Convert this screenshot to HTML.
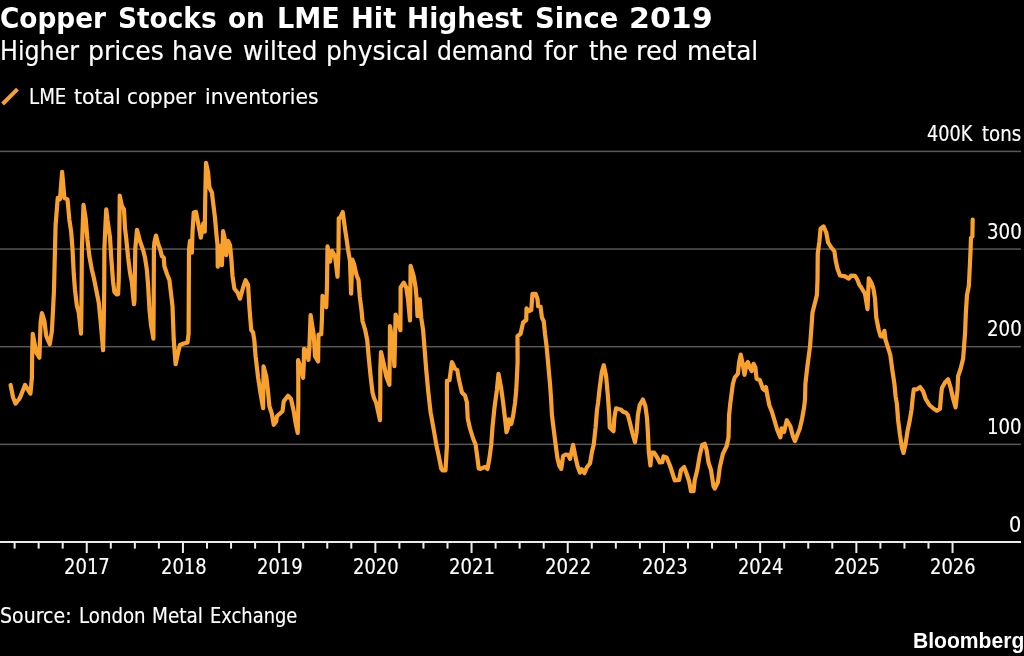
<!DOCTYPE html>
<html lang="en">
<head>
<meta charset="utf-8">
<title>Copper Stocks on LME Hit Highest Since 2019</title>
<style>
html,body{margin:0;padding:0;background:#000;}
body{width:1024px;height:656px;overflow:hidden;position:relative;color:#fff;
  font-family:"DejaVu Sans Condensed","DejaVu Sans","Liberation Sans",sans-serif;font-stretch:condensed;}
#title,#bb{font-stretch:normal;}
#chart{position:absolute;left:0;top:0;width:1024px;height:656px;display:block;}
.t{position:absolute;left:0;width:1024px;height:0;margin:0;padding:0;line-height:1;white-space:pre;}
.t span{position:absolute;top:0;display:block;transform-origin:0 0;white-space:pre;-webkit-text-stroke:0.15px #fff;}
#title span,#bb span{-webkit-text-stroke:0;}
#title{top:5px;font-family:"DejaVu Sans","Liberation Sans",sans-serif;font-weight:bold;font-size:28px;}
#sub{top:37px;font-family:"DejaVu Sans Condensed","DejaVu Sans","Liberation Sans",sans-serif;font-weight:normal;font-size:27px;}
#legend{top:86px;font-family:"DejaVu Sans Condensed","DejaVu Sans","Liberation Sans",sans-serif;font-weight:normal;font-size:22px;}
#y400{top:124px;font-family:"DejaVu Sans Condensed","DejaVu Sans","Liberation Sans",sans-serif;font-weight:normal;font-size:21px;}
#y300{top:222px;font-family:"DejaVu Sans Condensed","DejaVu Sans","Liberation Sans",sans-serif;font-weight:normal;font-size:21px;}
#y200{top:319px;font-family:"DejaVu Sans Condensed","DejaVu Sans","Liberation Sans",sans-serif;font-weight:normal;font-size:21px;}
#y100{top:417px;font-family:"DejaVu Sans Condensed","DejaVu Sans","Liberation Sans",sans-serif;font-weight:normal;font-size:21px;}
#y0{top:515px;font-family:"DejaVu Sans Condensed","DejaVu Sans","Liberation Sans",sans-serif;font-weight:normal;font-size:21px;}
#xl{top:557px;font-family:"DejaVu Sans Condensed","DejaVu Sans","Liberation Sans",sans-serif;font-weight:normal;font-size:21px;}
#src{top:606px;font-family:"DejaVu Sans Condensed","DejaVu Sans","Liberation Sans",sans-serif;font-weight:normal;font-size:21px;}
#bb{top:631px;font-family:"Liberation Sans","DejaVu Sans",sans-serif;font-weight:bold;font-size:21.5px;}
</style>
</head>
<body>
<svg id="chart" width="1024" height="656" viewBox="0 0 1024 656">
  <g id="grid" fill="#585858">
    <rect x="0" y="150.65" width="1021" height="1.5"/>
    <rect x="0" y="248.3" width="1021" height="1.5"/>
    <rect x="0" y="345.95" width="1021" height="1.5"/>
    <rect x="0" y="443.6" width="1021" height="1.5"/>
  </g>
  <path id="series" d="M10.6 385 L13.1 397.5 L15.6 403.6 L17.8 400.5 L19 399.5 L20.5 396.5 L25 384.9 L30.4 393.6 L31.9 378 L32.2 352.5 L32.75 333.8 L36.25 352.5 L39.4 357.7 L40 340 L40.6 322.5 L41.9 313.05 L44.4 321 L46.25 336 L49.75 344.2 L51.9 331 L53.1 308.75 L54 290 L55 249 L55.6 225 L57.75 197.8 L60 199.2 L62.1 171.8 L64.4 198 L67.5 199.4 L69.4 220 L71.2 232 L72.5 249 L73.75 273.75 L75 290 L76.9 306 L78.75 312.5 L81 333.6 L81.5 302 L81.9 249 L82.5 232 L83.5 204.8 L85.6 218 L87.5 240 L89.4 256.25 L91.9 270 L93.75 277.5 L96.25 290 L98.75 302.5 L100.6 321 L103.1 350.2 L103.75 321 L104.2 290 L104.4 249 L105.3 228 L106.25 209.3 L107.5 220 L110 237.5 L111.25 257.5 L113.1 282 L114.4 292 L116.5 294.5 L118.1 294.2 L118.75 280 L119.2 249 L119.4 232 L119.75 195.55 L121.9 206 L124 209.4 L125 228 L126.25 238.75 L128.1 257.5 L130 272.5 L131.9 282.5 L133.5 300 L134 304.2 L134.5 300 L135.25 249 L137 229.8 L140 241.25 L143.1 250 L145 257.5 L146.9 270 L148.1 285 L149.5 310 L151 325 L153.4 338.6 L153.7 302 L153.9 249 L154.4 242.5 L156 235.55 L158.1 243.75 L160 248.75 L161.9 256.25 L163.75 257.5 L164.4 266.25 L166.9 273.75 L169.4 280 L170.6 290 L172.5 306 L173.75 340 L175.6 364.2 L178.1 352.5 L180 345 L183.75 343.5 L187.5 342.5 L188.6 333.75 L188.8 290 L189 250 L190 240.8 L191.9 252.7 L192.5 232 L193.75 212.5 L196 211.8 L198.5 225 L200.8 237.7 L203.25 223.3 L204.8 231.7 L205.2 200 L206 162.8 L208.1 172.5 L209.4 187.5 L211.9 192.5 L213.1 202.5 L215 218 L216.25 232.5 L217.5 245 L217.75 266.7 L220 245.8 L221.9 265.2 L223.1 231.1 L225 240 L226.25 255.2 L228.1 240.8 L230 245 L231.25 257.5 L232.5 276 L234.4 288.75 L237.5 292.5 L240 298.7 L243.1 287.5 L245.6 280.2 L248.1 285 L249.4 307.5 L251.25 330 L253.1 332.5 L254.4 341 L255.6 356.25 L258.1 377.5 L260.6 393.75 L263.1 408.2 L263.4 383.75 L263.5 366.4 L266.25 376.25 L268.1 392.5 L269.4 406.25 L271.9 414 L273.75 424.8 L276.25 421.25 L276.9 416.25 L282.5 411.25 L283.75 401.25 L288 395.8 L291 399 L293.5 410 L295.6 423 L297.75 432.95 L298.3 405 L298.3 380 L298.1 360.2 L301.25 368.75 L303.1 377.95 L303.75 365 L304 348.8 L305.6 350 L308.5 359.8 L309.4 347.5 L310.6 315.2 L313.75 335 L315 356.25 L318.1 361.45 L318.3 345 L318.5 334.55 L321.25 334.2 L321.9 320 L322.5 295.8 L326.25 307.2 L327 285 L327.5 246.4 L330 261.7 L331.9 250.8 L335 256 L337.5 276.7 L338.5 250 L338.75 218.3 L340 217.95 L342.75 212.05 L345 228.75 L346.9 241.25 L348.1 250 L350 261 L351.1 293.6 L352.3 259.55 L354 264 L356.5 275 L358.5 280 L359.8 297 L361.5 310 L362.5 321 L365.2 330 L367.2 340 L368.75 357.5 L370.6 376.25 L372.5 392.5 L374 398 L376.25 403 L380 420.2 L380.3 396 L380.3 370 L381 352.05 L383.75 363.75 L386.25 376.25 L389.4 384.8 L389.75 357.5 L390 326.1 L393 345 L394.4 366.2 L395 340 L395.6 314.55 L398.1 321.25 L400.4 330.2 L400.6 300 L400.6 287.5 L403.75 282.7 L406.25 287.5 L408.1 300 L410 320.45 L410.4 287.5 L410.6 265.8 L413.75 276.25 L415.6 287.5 L416.5 297 L417.5 316.2 L419.75 299.3 L421.25 318 L423.1 330 L424.4 346.6 L426.25 370 L428.1 390 L429.4 402 L430.6 412.25 L433.75 429.75 L436.25 444.5 L438.75 456 L441.25 468.5 L442.5 470.4 L445.5 470.4 L446.9 446 L447 402 L446.9 380.8 L449.5 380.2 L451.9 362.05 L455 368.75 L457.25 370 L458.75 378.75 L461.9 392.5 L465 395.5 L466.9 402.25 L467.75 418.5 L470 428.5 L473.1 438.5 L475.6 444.5 L477.5 458.5 L478.75 468.5 L480.5 468.95 L485 466.8 L487.5 468.95 L489.4 458.5 L491.25 444.5 L492.5 427.25 L494.4 408.5 L495.5 400 L496.9 390 L498.5 373.8 L501.25 388.75 L503.1 402.5 L505.6 423.5 L506.5 432.2 L508.1 427.25 L508.75 419.3 L511.25 423.95 L513.1 416 L515 403 L516.25 390 L516.9 377.5 L517.6 362 L517.5 336.25 L520.6 333.75 L523.1 322.5 L526.25 320 L526.5 308.3 L528.75 311.2 L531.25 310 L532.5 293.75 L535.6 293.75 L537.5 298.75 L538.1 306.25 L540.6 306.9 L541.9 317.5 L543.75 321.25 L545 333.75 L546.6 346.6 L548.1 363 L550 383.75 L551.1 399 L551.9 414.75 L553.75 429.75 L555.6 444.5 L557.5 458.5 L559.4 466 L561.25 468.95 L563.1 456 L565.6 454.55 L568.1 454.75 L570 458.95 L573.1 444.8 L575 454.75 L577.5 466 L580 472.7 L581.9 469.3 L584.4 473.2 L586.9 467.25 L590 463.5 L591.9 452.25 L593.75 444.5 L595.6 427.25 L597 410 L598.1 402.5 L599.8 387 L601.8 372 L603.75 365.2 L606.1 376 L607.8 395 L609.1 412.5 L609.75 427.5 L613.5 431.2 L614.4 417.5 L616 408.3 L619.1 409.2 L621 409.55 L622.9 411.7 L626 412.8 L627.9 415 L629.75 422 L632.25 432.5 L635 442.2 L636.6 432.5 L637.9 415 L639.75 405 L642.9 399.55 L645.4 406.25 L647 418 L647.9 432.5 L648.75 451.25 L650.4 465.45 L651.6 452.5 L654.1 452.7 L657.25 457.5 L659.75 462.5 L662.25 462.2 L663.5 456.4 L666.6 457.5 L669.75 465 L672.25 472.5 L674.75 480.45 L679.1 480 L681 470 L684.1 467.05 L686.6 473.75 L689.1 481.25 L691 491.25 L693.5 491.25 L694.75 480 L697.25 470 L699.75 455 L702.25 445 L704.75 443.8 L706.6 450 L708.5 462.5 L711 470 L713.5 486.25 L714.75 488.6 L717.9 482.25 L719.75 467.5 L722.9 453.75 L726.6 446.25 L728.5 437.5 L729.1 415 L730.4 402.5 L732.9 383.75 L734.75 377.5 L737.9 373.75 L739.1 362.5 L740.75 354.55 L742.9 365 L744.5 374.8 L746.6 363.75 L747.9 362.05 L749.75 367.5 L751.6 371.1 L753.5 363.8 L755.4 367.5 L756.6 378.75 L759.75 380 L762.9 388.75 L764.5 390.2 L766 387.05 L767.25 395 L769.4 405.5 L772 412 L774.5 420.5 L777.25 430 L780.4 437.3 L781.6 428.3 L784.1 431.7 L786.8 420.2 L790.4 426.25 L792.9 436.25 L795 441.1 L797.25 435 L799.75 428.75 L802 419 L804 408 L805 400 L805.4 383.75 L807.25 367.5 L808.5 358 L810 346.6 L811.25 330 L812.5 312.5 L814.4 305 L816.9 295 L817.5 280 L817.75 253.75 L819.4 241.25 L820.6 228.75 L823.5 226.4 L826.25 232.5 L828.1 242.5 L831.25 247.5 L834.4 251.25 L835.6 260 L837.5 268.75 L840 275.45 L845 276.4 L848.75 278.6 L851.25 275.6 L855 275.8 L857.5 280 L859.4 285 L861.25 287.5 L865 293.75 L867.5 309.2 L868.75 278.3 L871.25 282.5 L873.4 288.5 L875 298.75 L876.25 317.5 L878.75 330 L880.6 336.25 L883.1 336.7 L884.4 330.8 L885.6 340 L887.8 346.8 L890.3 355 L892.5 371.25 L894.4 383.75 L895.6 396.25 L896.9 404 L898.1 420 L900 435 L901.9 447.5 L903.5 452.95 L905.6 443.75 L907.5 431.25 L909.4 422.3 L911.5 410 L912.7 398 L913.75 389.4 L916.9 389.4 L920 387.05 L923.1 391.25 L925.6 398.75 L929.4 405 L933.75 408.75 L936.9 410.7 L940 408.75 L941 396.25 L941.9 388.1 L945 382.5 L948.1 379.3 L950.6 387.5 L953.1 398.75 L955.6 407.3 L957.5 390 L958.1 376.25 L960.6 368.75 L963.1 358.75 L963.8 350 L965.1 332.5 L965.8 313.75 L967 295 L968.8 286.25 L969.4 275 L970 262.5 L970.6 249 L971 237.8 L972.4 236.5 L972.7 219.6" fill="none" stroke="#f9a12e" stroke-width="4.2" stroke-linejoin="round" stroke-linecap="round"/>
  <g id="axis" fill="#ebebeb">
    <rect x="0" y="541" width="1021" height="2"/>
    <g id="ticks">
      <rect x="13.6" y="541" width="2" height="7.6"/>
      <rect x="37.65" y="541" width="2" height="7.6"/>
      <rect x="61.7" y="541" width="2" height="7.6"/>
      <rect x="85.75" y="541" width="2" height="12"/>
      <rect x="109.8" y="541" width="2" height="7.6"/>
      <rect x="133.85" y="541" width="2" height="7.6"/>
      <rect x="157.9" y="541" width="2" height="7.6"/>
      <rect x="181.95" y="541" width="2" height="12"/>
      <rect x="206" y="541" width="2" height="7.6"/>
      <rect x="230.05" y="541" width="2" height="7.6"/>
      <rect x="254.1" y="541" width="2" height="7.6"/>
      <rect x="278.15" y="541" width="2" height="12"/>
      <rect x="302.2" y="541" width="2" height="7.6"/>
      <rect x="326.25" y="541" width="2" height="7.6"/>
      <rect x="350.3" y="541" width="2" height="7.6"/>
      <rect x="374.35" y="541" width="2" height="12"/>
      <rect x="398.4" y="541" width="2" height="7.6"/>
      <rect x="422.45" y="541" width="2" height="7.6"/>
      <rect x="446.5" y="541" width="2" height="7.6"/>
      <rect x="470.55" y="541" width="2" height="12"/>
      <rect x="494.6" y="541" width="2" height="7.6"/>
      <rect x="518.65" y="541" width="2" height="7.6"/>
      <rect x="542.7" y="541" width="2" height="7.6"/>
      <rect x="566.75" y="541" width="2" height="12"/>
      <rect x="590.8" y="541" width="2" height="7.6"/>
      <rect x="614.85" y="541" width="2" height="7.6"/>
      <rect x="638.9" y="541" width="2" height="7.6"/>
      <rect x="662.95" y="541" width="2" height="12"/>
      <rect x="687" y="541" width="2" height="7.6"/>
      <rect x="711.05" y="541" width="2" height="7.6"/>
      <rect x="735.1" y="541" width="2" height="7.6"/>
      <rect x="759.15" y="541" width="2" height="12"/>
      <rect x="783.2" y="541" width="2" height="7.6"/>
      <rect x="807.25" y="541" width="2" height="7.6"/>
      <rect x="831.3" y="541" width="2" height="7.6"/>
      <rect x="855.35" y="541" width="2" height="12"/>
      <rect x="879.4" y="541" width="2" height="7.6"/>
      <rect x="903.45" y="541" width="2" height="7.6"/>
      <rect x="927.5" y="541" width="2" height="7.6"/>
      <rect x="951.55" y="541" width="2" height="12"/>
    </g>
  </g>
  <path id="swatch" d="M2.6 104 L17.5 89.1" stroke="#f9a12e" stroke-width="4" fill="none"/>
</svg>
<h1 class="t" id="title"><span style="left:0.05px;transform:scaleX(0.9412)">Copper </span><span style="left:118.34px;transform:scaleX(0.942)">Stocks </span><span style="left:228.32px;transform:scaleX(0.94)">on </span><span style="left:276.8px;transform:scaleX(0.9696)">LME </span><span style="left:350.53px;transform:scaleX(0.976)">Hit </span><span style="left:407.2px;transform:scaleX(0.9481)">Highest </span><span style="left:534.61px;transform:scaleX(0.9778)">Since </span><span style="left:629.23px;transform:scaleX(1.0743)">2019</span></h1>
<div class="t" id="sub"><span style="left:-0.24px;transform:scaleX(0.9796)">Higher </span><span style="left:88.45px;transform:scaleX(1.0359)">prices </span><span style="left:172.38px;transform:scaleX(1.0175)">have </span><span style="left:243.14px;transform:scaleX(1.0159)">wilted </span><span style="left:326.11px;transform:scaleX(1.028)">physical </span><span style="left:436.86px;transform:scaleX(0.9666)">demand </span><span style="left:543.78px;transform:scaleX(1.0031)">for </span><span style="left:588.56px;transform:scaleX(0.9775)">the </span><span style="left:636.19px;transform:scaleX(1.0612)">red </span><span style="left:686.68px;transform:scaleX(1.0211)">metal</span></div>
<div class="t" id="legend"><span style="left:28.53px;transform:scaleX(0.9203)">LME </span><span style="left:73.69px;transform:scaleX(1.0345)">total </span><span style="left:127.18px;transform:scaleX(1.0033)">copper </span><span style="left:204.61px;transform:scaleX(1.0285)">inventories</span></div>
<div class="t" id="y400"><span style="left:927.16px;transform:scaleX(0.9327)">400K </span><span style="left:981.97px;transform:scaleX(0.9618)">tons</span></div>
<div class="t" id="y300"><span style="left:986.72px;transform:scaleX(0.965)">300</span></div>
<div class="t" id="y200"><span style="left:986.76px;transform:scaleX(0.964)">200</span></div>
<div class="t" id="y100"><span style="left:986.96px;transform:scaleX(0.9583)">100</span></div>
<div class="t" id="y0"><span style="left:1009.28px;transform:scaleX(1.0207)">0</span></div>
<div class="t" id="xl"><span style="left:64.37px;transform:scaleX(0.9529)">2017 </span><span style="left:160.58px;transform:scaleX(0.9481)">2018 </span><span style="left:256.78px;transform:scaleX(0.948)">2019 </span><span style="left:352.98px;transform:scaleX(0.9472)">2020 </span><span style="left:449.17px;transform:scaleX(0.9564)">2021 </span><span style="left:545.36px;transform:scaleX(0.9607)">2022 </span><span style="left:641.57px;transform:scaleX(0.9518)">2023 </span><span style="left:737.78px;transform:scaleX(0.9445)">2024 </span><span style="left:833.97px;transform:scaleX(0.955)">2025 </span><span style="left:930.18px;transform:scaleX(0.9468)">2026</span></div>
<div class="t" id="src"><span style="left:-0.01px;transform:scaleX(1.005)">Source: </span><span style="left:78.94px;transform:scaleX(0.9621)">London </span><span style="left:151.92px;transform:scaleX(0.9761)">Metal </span><span style="left:209.62px;transform:scaleX(0.9461)">Exchange</span></div>
<div class="t" id="bb"><span style="left:912.92px;transform:scaleX(0.9805)">Bloomberg</span></div>
</body>
</html>
